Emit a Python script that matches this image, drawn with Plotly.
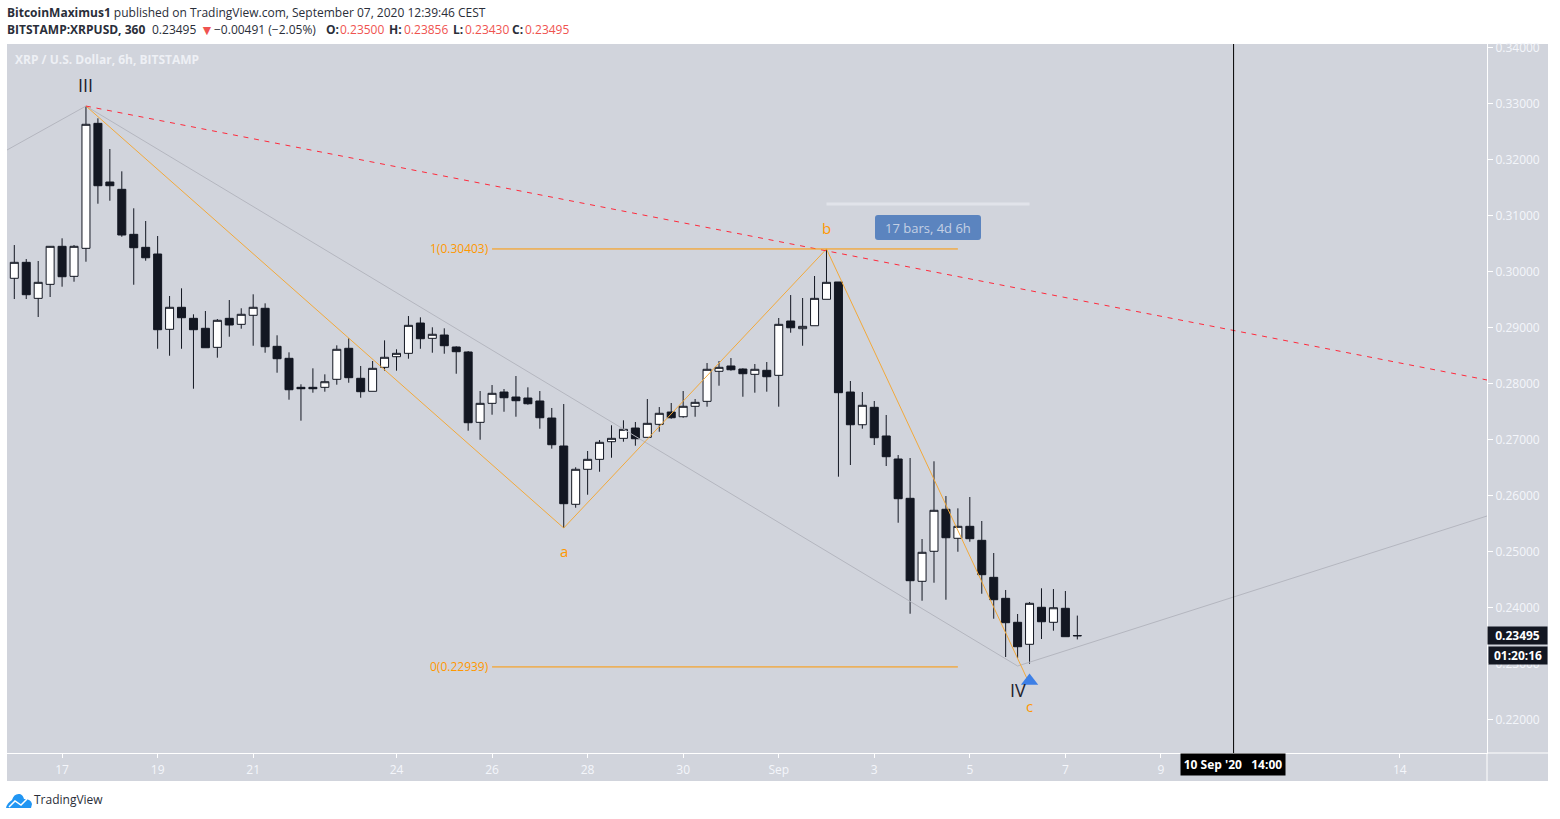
import pandas as pd
import plotly.graph_objects as go

# 6h candles
opens = [.29879,.30164,.29521,.29771,.30450,.29914,.30414,.32646,.31598,.31468,
         .30664,.30432,.30313,.28968,.29361,.29164,.28986,.28646,.29164,.29057,
         .29218,.29343,.28664,.28450,.27932,.27932,.27932,.28075,.28629,.28093,
         .27861,.28289,.28479,.28539,.29080,.28807,.28866,.28652,.28563,.27307,
         .27646,.27848,.27759,.27741,.27688,.27384,.26884,.25843,.26468,.26646,
         .26961,.27021,.27205,.27039,.27271,.27491,.27407,.27593,.27682,.28218,
         .28313,.28259,.28164,.28236,.28146,.29116,.28979,.29032,.29504,.29813,
         .27848,.27264,.27575,.27063,.26652,.25950,.24468,.25004,.25754,.25236,
         .25450,.25200,.24539,.24164,.23736,.23343,.24004,.23736,.23986,.23500]
highs = [.30473,.30223,.30188,.30455,.30593,.30473,.32955,.32736,.32188,.31789,
         .31129,.30902,.30634,.29563,.29700,.29236,.29295,.29152,.29491,.29343,
         .29593,.29432,.28861,.28557,.27986,.28271,.28164,.28682,.28807,.28313,
         .28402,.28771,.28611,.29205,.29182,.29004,.28986,.28664,.28580,.27866,
         .27973,.27902,.28134,.27932,.27866,.27563,.27634,.26504,.26795,.26991,
         .27254,.27343,.27313,.27723,.27580,.27652,.27866,.27723,.28366,.28402,
         .28455,.28271,.28348,.28384,.29170,.29580,.29527,.29920,.30403,.29813,
         .28045,.27848,.27688,.27438,.26723,.26670,.25223,.26611,.25991,.25771,
         .25973,.25545,.24973,.24313,.23884,.24098,.24343,.24330,.24295,.23856]
lows = [.29509,.29509,.29188,.29545,.29729,.29818,.30175,.31211,.31264,.30621,
        .29764,.30193,.28621,.28496,.28621,.27907,.28639,.28461,.28836,.28979,
        .28675,.28550,.28193,.27711,.27336,.27836,.27854,.27979,.28014,.27746,
        .27861,.28229,.28229,.28443,.28621,.28550,.28532,.28175,.27157,.26996,
        .27443,.27496,.27407,.27621,.27193,.26836,.25420,.25782,.26014,.26425,
        .26675,.26961,.26889,.27039,.27139,.27371,.27389,.27407,.27586,.27961,
        .28229,.27764,.27836,.27854,.27586,.28907,.28675,.29032,.29504,.26336,
        .26545,.27193,.26902,.26527,.25514,.23889,.24121,.24443,.24139,.24996,
        .25175,.24246,.23800,.23116,.23098,.22996,.23438,.23586,.23479,.23430]
closes = [.30164,.29586,.29807,.30450,.29907,.30450,.32629,.31532,.31532,.30652,
          .30425,.30246,.28961,.29361,.29175,.28961,.28639,.29129,.29045,.29236,
          .29361,.28657,.28443,.27889,.27907,.27907,.28032,.28611,.28104,.27854,
          .28271,.28468,.28539,.29039,.28800,.28879,.28675,.28568,.27300,.27646,
          .27825,.27746,.27693,.27639,.27389,.26907,.25854,.26468,.26646,.26950,
          .27021,.27182,.27014,.27289,.27468,.27389,.27593,.27664,.28254,.28289,
          .28246,.28175,.28254,.28121,.29057,.28996,.29021,.29521,.29807,.27836,
          .27264,.27611,.27032,.26693,.25943,.24479,.24986,.25736,.25246,.25450,
          .25229,.24586,.24139,.23729,.23300,.24075,.23746,.23996,.23479,.23495]
bar_times = pd.date_range("2020-08-16 00:00", periods=len(opens), freq="6h")

# axes
x_start = "2020-08-15 20:20"
x_end = "2020-09-15 19:48"
y_range = [.21402, .34063]
y_ticks = [.22, .23, .24, .25, .26, .27, .28, .29, .30, .31, .32, .33, .34]
x_tick_dates = ["2020-08-17", "2020-08-19", "2020-08-21", "2020-08-24", "2020-08-26",
                "2020-08-28", "2020-08-30", "2020-09-01", "2020-09-03", "2020-09-05",
                "2020-09-07", "2020-09-09", "2020-09-14"]
x_tick_labels = ["17", "19", "21", "24", "26", "28", "30", "Sep", "3", "5", "7", "9", "14"]

# drawings on the chart
abc_times = [bar_times[6], bar_times[46], bar_times[68], bar_times[85]]
abc_prices = [.32955, .25420, .30403, .22634]
gray_times = [x_start, bar_times[6], bar_times[84], x_end]
gray_prices = [.32170, .32955, .22955, .25634]
red_times = [bar_times[6], x_end]
red_prices = [.32955, .28063]
fib_levels = [.30403, .22939]
fib_labels = ["1(0.30403)", "0(0.22939)"]
fib_times = [bar_times[40], bar_times[79]]
range_times = [bar_times[68], bar_times[85]]
range_price = .31205
cursor_time = "2020-09-10 12:30"
arrow_time = bar_times[85]
arrow_price = .22688

wave_labels = ["III", "IV", "a", "b", "c"]
wave_times = [bar_times[6], bar_times[84], bar_times[46], bar_times[68], bar_times[85]]
wave_prices = [.33330, .22520, .25015, .30780, .22240]

DARK = "#131722"
ORANGE = "#ff9800"
RED = "#ef5350"
PANEL = "#d1d4dc"
TICK = "#f4f6fb"
FONT = "Open Sans"


# pixel position on the page -> paper coordinates, only for the frame around the plot
def px(x):
    return (x - 7) / 1480


def py(y):
    return (753 - y) / 709


def page_path(commands):
    # commands like [("M", 6, 808), ("Q", 8, 803, 13, 798)]
    parts = []
    for c in commands:
        coords = [px(v) if i % 2 == 0 else py(v) for i, v in enumerate(c[1:])]
        parts.append(c[0] + " " + " ".join(str(v) for v in coords))
    return " ".join(parts)


def page_text(x, y, text, size=12, color="#2a2e39", xanchor="left"):
    return dict(xref="paper", yref="paper", x=px(x), y=py(y), xanchor=xanchor, yanchor="middle",
                text=text, showarrow=False, font=dict(family=FONT, size=size, color=color))


def page_box(x, y, w, h, text, fill):
    # plotly adds border and padding around width and height
    return dict(xref="paper", yref="paper", x=px(x), y=py(y), xanchor="center", yanchor="middle",
                width=w - 4, height=h - 4, bgcolor=fill, text=text, showarrow=False,
                font=dict(family=FONT, size=12, color="white"))


fig = go.Figure()

fig.add_trace(go.Candlestick(
    x=bar_times, open=opens, high=highs, low=lows, close=closes,
    whiskerwidth=0,
    increasing=dict(fillcolor="white", line=dict(color=DARK, width=1)),
    decreasing=dict(fillcolor=DARK, line=dict(color=DARK, width=1)),
))

fig.add_trace(go.Scatter(x=gray_times, y=gray_prices, mode="lines",
                         line=dict(color="#b4b6bf", width=1), hoverinfo="skip"))
fig.add_trace(go.Scatter(x=abc_times, y=abc_prices, mode="lines",
                         line=dict(color="#f2a93b", width=1), hoverinfo="skip"))
fig.add_trace(go.Scatter(x=red_times, y=red_prices, mode="lines",
                         line=dict(color="#ff2a3c", width=1, dash="5px,5.7px"), hoverinfo="skip"))
for level in fib_levels:
    fig.add_trace(go.Scatter(x=fib_times, y=[level, level], mode="lines",
                             line=dict(color=ORANGE, width=1), hoverinfo="skip"))
fig.add_trace(go.Scatter(x=range_times, y=[range_price, range_price], mode="lines",
                         line=dict(color="#e1e3ea", width=3), hoverinfo="skip"))
fig.add_trace(go.Scatter(x=[cursor_time, cursor_time], y=y_range, mode="lines",
                         line=dict(color="#000000", width=1), hoverinfo="skip"))
fig.add_trace(go.Scatter(x=[arrow_time], y=[arrow_price], mode="markers",
                         marker=dict(symbol="triangle-up", size=15, color="#3d7fe6"),
                         hoverinfo="skip"))

# grey panel behind plot and axes, axis lines carried on to the edges
shapes = [
    dict(type="rect", xref="paper", yref="paper", x0=px(7), x1=px(1548), y0=py(781), y1=py(44),
         fillcolor=PANEL, line_width=0, layer="below"),
    dict(type="line", xref="paper", yref="paper", x0=px(1487), x1=px(1548), y0=py(753), y1=py(753),
         line=dict(color="white", width=1)),
    dict(type="line", xref="paper", yref="paper", x0=px(1487), x1=px(1487), y0=py(753), y1=py(781),
         line=dict(color="white", width=1)),
    # rounded box of the bars range label
    dict(type="path", xref="paper", yref="paper", fillcolor="#5b84bf", line_width=0,
         path=page_path([("M", 878, 215), ("L", 978, 215), ("Q", 981, 215, 981, 218),
                         ("L", 981, 237), ("Q", 981, 240, 978, 240), ("L", 878, 240),
                         ("Q", 875, 240, 875, 237), ("L", 875, 218), ("Q", 875, 215, 878, 215),
                         ("Z",)])),
    # TradingView logo
    dict(type="path", xref="paper", yref="paper", fillcolor="#2196f3", line_width=0,
         path=page_path([("M", 6, 808), ("Q", 7, 803, 12, 800), ("Q", 14, 793, 20, 794),
                         ("Q", 23, 795, 24, 799), ("Q", 31, 799, 32, 804), ("L", 31, 808),
                         ("Z",)])),
    dict(type="path", xref="paper", yref="paper", line=dict(color="white", width=1.5),
         path=page_path([("M", 9, 807), ("L", 15, 801), ("L", 21, 805), ("L", 27, 799)])),
]

annotations = [
    page_text(4.5, 12.5, "<b>BitcoinMaximus1</b> published on TradingView.com, "
                         "September 07, 2020 12:39:46 CEST"),
    page_text(4.5, 29.5, "<b>BITSTAMP:XRPUSD, 360</b>"),
    page_text(149.5, 29.5, "0.23495"),
    page_text(198, 29, "▼", size=14, color=RED),
    page_text(212, 29.5, "−0.00491 (−2.05%)"),
    page_text(324, 29.5, "<b>O:</b>"),
    page_text(337.5, 29.5, "0.23500", color=RED),
    page_text(387, 29.5, "<b>H:</b>"),
    page_text(401.5, 29.5, "0.23856", color=RED),
    page_text(451, 29.5, "<b>L:</b>"),
    page_text(463, 29.5, "0.23430", color=RED),
    page_text(510, 29.5, "<b>C:</b>"),
    page_text(523, 29.5, "0.23495", color=RED),
    page_text(13, 60, "<b>XRP / U.S. Dollar, 6h, BITSTAMP</b>", color="#eef0f5"),
    page_text(32, 800, "TradingView"),
    # price and countdown boxes on the scale
    page_box(1517.5, 635.5, 61, 19, "<b>0.23495</b>", DARK),
    page_box(1518, 655.5, 60, 19, "<b>01:20:16</b>", DARK),
    # crosshair date box
    page_box(1233, 764.5, 106, 23, "<b>10 Sep '20   14:00</b>", "#000000"),
    # bars range label
    page_text(928, 227.5, "17 bars, 4d 6h", size=13, color="#c4d0e4", xanchor="center"),
]
for label, level in zip(fib_labels, fib_levels):
    annotations.append(dict(x=bar_times[40], y=level, text=label, xanchor="right", xshift=-1,
                            showarrow=False, font=dict(family=FONT, size=12, color=ORANGE)))
for label, t, price in zip(wave_labels, wave_times, wave_prices):
    big = label in ("III", "IV")
    annotations.append(dict(x=t, y=price, text=label, showarrow=False,
                            font=dict(family=FONT, size=18 if big else 15,
                                      color="#1e222d" if big else ORANGE)))

fig.update_layout(
    width=1560,
    height=819,
    margin=dict(l=7, r=73, t=44, b=66, pad=0),
    paper_bgcolor="white",
    plot_bgcolor=PANEL,
    showlegend=False,
    shapes=shapes,
    annotations=annotations,
    hovermode=False,
    boxgap=0.33,
    boxgroupgap=0,
    xaxis=dict(
        type="date", range=[x_start, x_end], rangeslider=dict(visible=False),
        showgrid=False, zeroline=False, showline=True, linecolor="white", linewidth=1,
        ticks="outside", ticklen=4, tickcolor="white", tickmode="array",
        tickvals=x_tick_dates, ticktext=x_tick_labels, ticklabelstandoff=2,
        tickfont=dict(family=FONT, size=12, color=TICK),
    ),
    yaxis=dict(
        side="right", range=y_range, showgrid=False, zeroline=False,
        showline=True, linecolor="white", linewidth=1,
        ticks="outside", ticklen=5, tickcolor="white", tickmode="array",
        tickvals=y_ticks, tickformat=".5f",
        tickfont=dict(family=FONT, size=12, color=TICK),
    ),
)

fig.write_html("out.html", config=dict(displayModeBar=False),
               post_script="document.body.style.margin='0';")
